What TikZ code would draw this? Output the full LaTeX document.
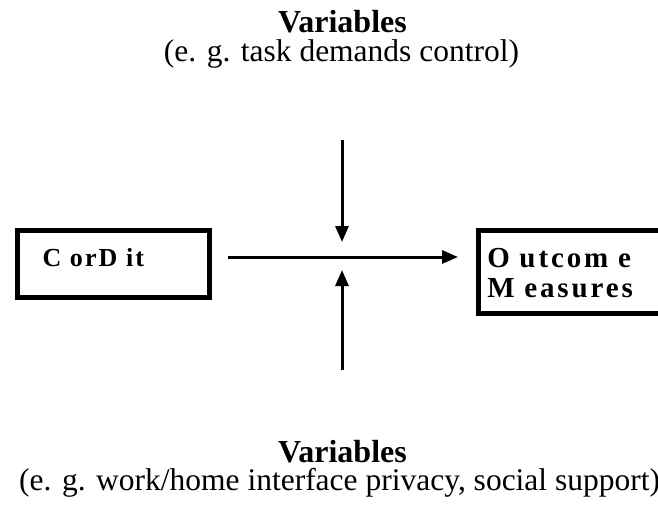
\documentclass[tikz,border=0pt]{standalone}
\usepackage{fontspec}
\setmainfont{Liberation Serif}
\newfontfamily\spacedfont[LetterSpace=8]{Liberation Serif}
\newfontfamily\widefont[LetterSpace=10]{Liberation Serif}
\usetikzlibrary{arrows.meta, positioning, calc}
\tikzset{
  flow/.style={-{Triangle[length=16pt, width=13pt]}, line width=3pt},
  blockbox/.style={draw, line width=4.5pt, inner ysep=0pt, align=left, anchor=north west},
  headline/.style={anchor=base, font=\fontsize{32}{36}\selectfont\bfseries},
  exampleline/.style={anchor=base, font=\fontsize{31.5}{36}\selectfont}
}
\begin{document}
\begin{tikzpicture}[x=1pt, y=-1pt, every node/.style={inner sep=0pt}]
\useasboundingbox (0,0) rectangle (658,505);
% Top variables
\node[headline] (topvar) at (342.5,33) {Variables};
\node[exampleline] (topeg) at (341.5,62) {(e. g. task demands control)};
% Boxes
\node[blockbox, inner xsep=25pt, text width=142pt, text height=36pt, text depth=31pt,
      font=\fontsize{26}{31}\selectfont\spacedfont\bfseries]
  (cordit) at (15.25,228.25) {C orD it};
\node[blockbox, inner xsep=9pt, text width=190pt, text height=37pt, text depth=46pt,
      font=\fontsize{29}{32}\selectfont\widefont\bfseries]
  (outcome) at (476,228.25) {O utcom e\\[-2pt]M easures};
% Crossing point and free ends
\coordinate (cross) at (342,257);
\coordinate (downstart) at (342,140);
\coordinate (upstart) at (342,370);
% Arrows
\draw[flow, shorten <=16pt, shorten >=18pt] (cordit.east |- cross) -- (outcome.west |- cross);
\draw[flow, shorten >=15pt] (downstart) -- (cross);
\draw[flow, shorten >=13pt] (upstart) -- (cross);
% Bottom variables
\node[headline] (botvar) at (342.5,462) {Variables};
\node[exampleline, anchor=base west] (boteg) at (19,490) {(e. g. work/home interface privacy, social support)};
\end{tikzpicture}
\end{document}
